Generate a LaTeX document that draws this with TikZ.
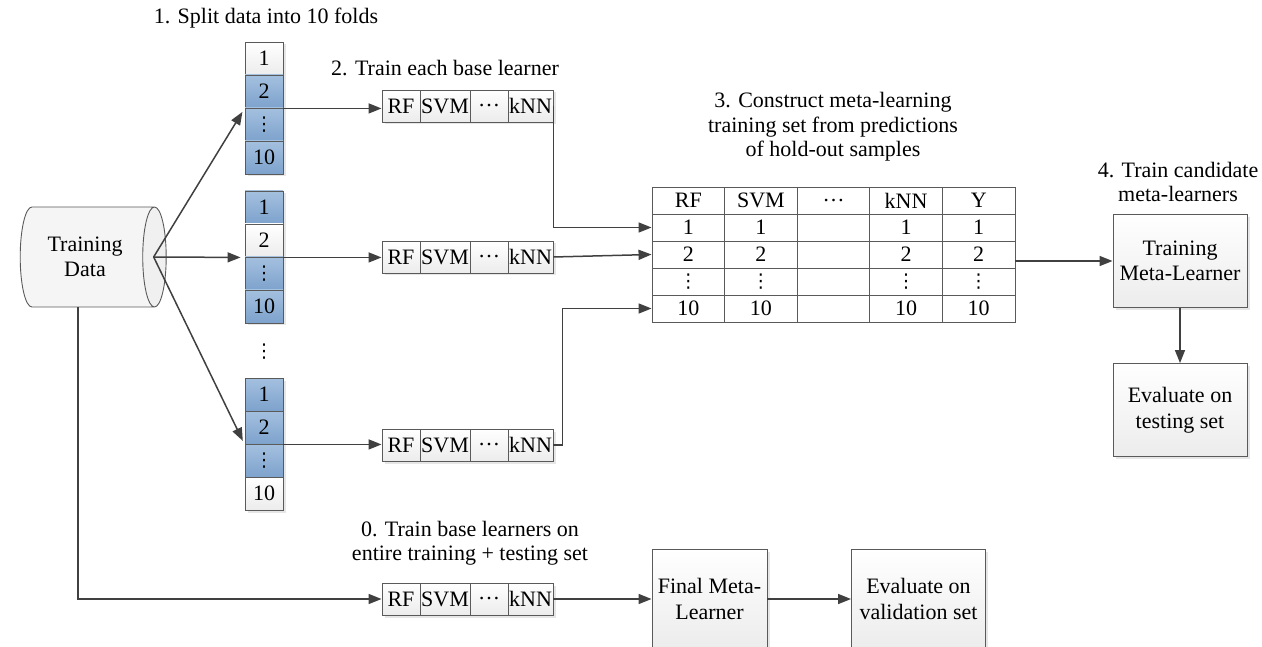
\documentclass[tikz,border=0pt]{standalone}
\usepackage{fontspec}
\setmainfont{Liberation Serif}
\newfontfamily\symfont{DejaVu Sans}
\usetikzlibrary{shapes.geometric,arrows.meta,shadows}

\definecolor{edge}{HTML}{404040}
\definecolor{frame}{HTML}{5A5A5A}
\definecolor{foldtop}{HTML}{A4C0DF}
\definecolor{foldbot}{HTML}{7DA2CC}

% vertical ellipsis as one glyph
\newcommand\vdotsx{{\symfont\fontsize{19}{19}\selectfont ⋮}}

\tikzset{
  box/.style={draw=frame, line width=0.9pt, inner sep=1pt, top color=white, bottom color=gray!15,
    drop shadow={shadow xshift=2.5pt, shadow yshift=-2.5pt, opacity=.2}},
  foldw/.style={box, minimum width=38, minimum height=33},
  foldb/.style={foldw, top color=foldtop, bottom color=foldbot},
  lcell/.style={box, minimum height=32},
  tcell/.style={draw=frame, line width=0.9pt, fill=white, minimum width=72.6, minimum height=27, inner sep=0pt},
  proc/.style={box, align=center, minimum width=134, minimum height=93},
  arr/.style={draw=edge, line width=1.5pt, -{Triangle[length=13pt,width=10pt]}},
  note/.style={align=center, font=\fontsize{22}{24.5}\selectfont},
}

\begin{document}
\begin{tikzpicture}[x=1pt, y=-1pt, font=\fontsize{22}{25.5}\selectfont]
  \clip (0,0) rectangle (1262,647);

  % training data
  \node[cylinder, draw=frame, line width=0.9pt, minimum width=100, minimum height=146, aspect=0.5,
    shape border rotate=0, cylinder uses custom fill, cylinder body fill=gray!8,
    cylinder end fill=gray!12, align=center] (td) at (85,257) {Training\\Data};
  \coordinate (td-c) at ([xshift=-13]td.east);

  % folds
  \foreach \top/\w [count=\s] in {42/1, 191/2, 378/4} {
    \foreach \v [count=\i] in {1,2,\vdotsx,10} {
      \ifnum\i=\w \def\sty{foldw}\else \def\sty{foldb}\fi
      \node[\sty] (f\s-\i) at (264,\top+\i*33-16.5) {\v};
    }
  }
  \node (vd) at (264,352) {\vdotsx};

  % base learners
  \foreach \y [count=\b] in {106,257,445,599} {
    \foreach \t/\x/\w [count=\c] in {RF/401/38, SVM/445/50, …/489/38, kNN/530.5/45} {
      \node[lcell, minimum width=\w] (b\b-\c) at (\x,\y) {\t};
    }
  }

  % meta-learning table
  \foreach \row [count=\r from 0] in {{RF,SVM,…,kNN,Y},{1,1,,1,1},{2,2,,2,2},
      {\vdotsx,\vdotsx,,\vdotsx,\vdotsx},{10,10,,10,10}} {
    \foreach \v [count=\c] in \row {
      \node[tcell] (t\r-\c) at (652+\c*72.6-36.3,200.5+\r*27) {\v};
    }
  }

  % meta-learners
  \node[proc] (tml) at (1180,261) {Training\\Meta-Learner};
  \node[proc] (evt) at (1180,410) {Evaluate on\\testing set};
  \node[proc, minimum width=115, minimum height=100] (fml) at (709.5,599) {Final Meta-\\Learner};
  \node[proc, minimum height=100] (evv) at (918.5,599) {Evaluate on\\validation set};

  % step labels
  \node[note] (n1) at (266,18) {1. Split data into 10 folds};
  \node[note] (n2) at (445,68) {2. Train each base learner};
  \node[note] (n3) at (833,127) {3. Construct meta-learning\\training set from predictions\\of hold-out samples};
  \node[note] (n4) at (1178,182) {4. Train candidate\\meta-learners};
  \node[note] (n0) at (470,543) {0. Train base learners on\\entire training + testing set};

  % connectors
  \foreach \s in {1,2,3} {
    \draw[arr, shorten >=4pt] (td-c) -- (f\s-2.south west);
    \draw[arr] (f\s-2.south east) -- (f\s-2.south east -| b\s-1.west);
  }
  \draw[arr] (b1-4.east) |- (t1-1.west);
  \draw[arr] (b2-4.east) -- (t2-1.west);
  \draw[arr] (b3-4.east) -- ++(9,0) |- (t4-1.west);
  \draw[arr] (tml.west -| t0-5.east) -- (tml.west);
  \draw[arr] (tml) -- (evt);
  \draw[arr] ([xshift=-7]td.south) |- (b4-1.west);
  \draw[arr] (b4-4.east) -- (fml);
  \draw[arr] (fml) -- (evv);
\end{tikzpicture}
\end{document}
